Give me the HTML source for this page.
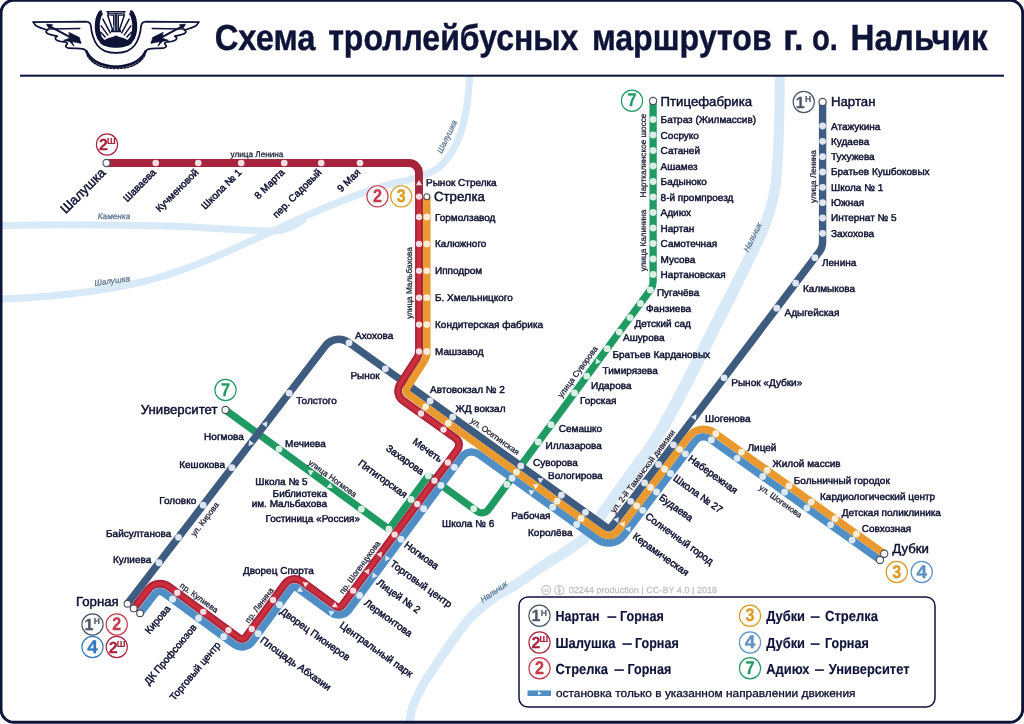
<!DOCTYPE html>
<html lang="ru"><head><meta charset="utf-8"><title>Схема троллейбусных маршрутов г. о. Нальчик</title>
<style>html,body{margin:0;padding:0;background:#fff}svg{display:block;font-family:'Liberation Sans', sans-serif;will-change:transform;text-rendering:geometricPrecision}</style></head>
<body>
<svg width="1024" height="724" viewBox="0 0 1024 724">
<rect x="0" y="0" width="1024" height="724" fill="#ffffff"/>
<path d="M0 225.5 C60 224.5 120 224.5 180 226.5 C215 228 250 231 275 231 C285 231 295 226 305 219" fill="none" stroke="#d8e9f8" stroke-width="7.0" stroke-linecap="butt" stroke-linejoin="round"/>
<path d="M0 299 C60 297 110 290 150 280 C200 266 240 246 290 223 C330 205 370 188 400 182 C415 179 432 173 440 166.5 C449 158.5 456 146 460.8 133 C465 120 468.5 98 469.8 76" fill="none" stroke="#d8e9f8" stroke-width="7.0" stroke-linecap="butt" stroke-linejoin="round"/>
<path d="M774.7 76.0 L774.6 84.6 L774.5 93.4 L774.4 102.3 L774.3 111.4 L774.1 120.5 L773.8 129.6 L773.5 138.7 L773.1 147.6 L772.7 156.4 L772.2 165.1 L771.6 173.4 L770.9 181.4 L770.1 186.8 L769.1 192.0 L768.0 197.0 L766.9 201.7 L765.6 206.1 L764.3 210.3 L763.0 214.2 L761.7 217.9 L760.4 221.3 L759.2 224.5 L758.0 227.3 L757.0 229.7 L754.2 235.6 L751.0 242.0 L747.6 248.9 L744.1 256.1 L740.3 263.6 L736.4 271.5 L732.3 279.6 L728.0 287.9 L723.7 296.4 L719.3 305.1 L714.7 313.9 L710.1 322.8 L706.7 329.7 L703.1 337.1 L699.2 344.8 L695.1 352.9 L690.9 361.3 L686.6 369.8 L682.2 378.3 L677.7 386.9 L673.3 395.4 L668.9 403.8 L664.5 411.9 L660.3 419.7 L658.0 423.9 L655.8 427.7 L653.7 431.3 L651.7 434.6 L649.8 437.7 L647.8 440.6 L645.9 443.4 L644.1 446.1 L642.2 448.8 L640.3 451.3 L638.4 453.9 L636.4 456.6 L632.4 462.1 L628.6 467.3 L624.9 472.5 L621.3 477.5 L617.8 482.3 L614.4 487.1 L611.1 491.8 L607.9 496.3 L604.7 500.8 L601.6 505.2 L598.5 509.5 L595.5 513.9 L594.0 516.2 L592.6 518.3 L591.2 520.4 L589.9 522.4 L588.7 524.2 L587.4 526.0 L586.2 527.8 L584.9 529.5 L583.6 531.1 L582.2 532.7 L580.7 534.2 L579.3 535.6 L576.9 537.4 L574.2 539.4 L571.5 541.3 L568.7 543.2 L565.9 545.0 L563.1 546.8 L560.3 548.6 L557.4 550.4 L554.6 552.2 L551.8 554.0 L548.9 555.8 L546.2 557.5 L543.3 559.4 L540.5 561.3 L537.6 563.2 L534.8 565.2 L531.9 567.2 L529.0 569.2 L526.2 571.2 L523.3 573.2 L520.5 575.2 L517.7 577.1 L515.0 578.9 L512.3 580.7 L509.9 582.1 L507.5 583.5 L505.0 585.0 L502.6 586.4 L500.1 587.8 L497.7 589.2 L495.3 590.7 L492.9 592.2 L490.6 593.7 L488.3 595.3 L486.1 596.9 L483.9 598.6 L481.8 600.4 L479.8 602.1 L477.8 603.9 L475.7 605.7 L473.7 607.6 L471.7 609.5 L469.8 611.5 L467.8 613.5 L465.9 615.5 L464.0 617.6 L462.1 619.8 L460.3 622.0 L458.2 624.8 L456.3 627.4 L454.4 630.0 L452.5 632.6 L450.7 635.1 L448.9 637.7 L447.1 640.2 L445.4 642.7 L443.7 645.1 L442.0 647.6 L440.4 650.0 L438.7 652.5 L437.1 655.0 L435.5 657.4 L434.0 659.8 L432.4 662.1 L431.0 664.4 L429.5 666.6 L428.1 668.7 L426.8 670.8 L425.5 672.7 L424.2 674.6 L423.0 676.4 L421.8 678.3 L420.2 681.0 L418.8 683.6 L417.4 686.1 L416.2 688.6 L414.9 690.9 L413.8 693.2 L412.8 695.4 L411.8 697.4 L410.9 699.4 L410.1 701.2 L409.4 702.9 L408.7 704.7 L408.2 706.7 L407.8 708.4 L407.4 710.2 L407.0 711.9 L406.7 713.6 L406.4 715.3 L406.1 717.0 L405.9 718.7 L405.7 720.5 L405.5 722.2 L405.4 724.0 L405.3 725.8 L413.9 726.2 L413.9 724.5 L414.0 722.9 L414.2 721.3 L414.4 719.8 L414.6 718.3 L414.8 716.7 L415.1 715.2 L415.4 713.6 L415.8 712.0 L416.1 710.4 L416.6 708.8 L416.9 707.3 L417.4 706.2 L418.1 704.7 L418.8 703.0 L419.7 701.1 L420.6 699.1 L421.6 697.1 L422.7 694.9 L423.9 692.6 L425.2 690.2 L426.5 687.8 L427.9 685.3 L429.2 682.9 L430.3 681.4 L431.5 679.6 L432.8 677.7 L434.2 675.7 L435.5 673.7 L437.0 671.6 L438.4 669.4 L440.0 667.1 L441.5 664.8 L443.1 662.4 L444.7 660.0 L446.3 657.5 L447.9 655.2 L449.6 652.8 L451.3 650.4 L453.0 648.0 L454.7 645.5 L456.5 643.1 L458.3 640.6 L460.1 638.1 L462.0 635.6 L463.9 633.0 L465.8 630.5 L467.7 628.0 L469.4 626.0 L471.2 624.0 L472.9 622.1 L474.8 620.2 L476.6 618.3 L478.5 616.5 L480.4 614.7 L482.3 613.0 L484.3 611.2 L486.2 609.6 L488.2 607.9 L490.1 606.4 L492.0 604.9 L494.0 603.4 L496.1 602.0 L498.3 600.6 L500.5 599.2 L502.8 597.9 L505.2 596.5 L507.6 595.1 L510.0 593.7 L512.5 592.3 L515.1 590.9 L517.7 589.3 L520.6 587.5 L523.4 585.6 L526.3 583.7 L529.2 581.7 L532.1 579.7 L535.0 577.8 L537.8 575.8 L540.7 573.8 L543.5 571.9 L546.3 570.0 L549.1 568.2 L551.8 566.5 L554.6 564.7 L557.4 563.0 L560.2 561.2 L563.1 559.5 L566.0 557.7 L568.9 555.8 L571.8 554.0 L574.7 552.1 L577.5 550.1 L580.4 548.1 L583.3 546.1 L586.3 543.8 L588.4 541.8 L590.1 540.0 L591.8 538.1 L593.4 536.2 L594.9 534.3 L596.3 532.4 L597.7 530.4 L599.0 528.4 L600.4 526.4 L601.7 524.3 L603.1 522.2 L604.5 520.1 L607.5 515.9 L610.6 511.6 L613.7 507.2 L616.9 502.8 L620.2 498.3 L623.6 493.7 L627.0 488.9 L630.5 484.1 L634.1 479.1 L637.9 474.0 L641.7 468.8 L645.6 463.4 L647.6 460.9 L649.6 458.2 L651.5 455.6 L653.5 452.9 L655.5 450.1 L657.5 447.1 L659.6 444.1 L661.7 440.8 L663.8 437.4 L666.1 433.7 L668.4 429.7 L670.7 425.5 L675.1 417.6 L679.5 409.5 L684.0 401.1 L688.5 392.5 L693.0 383.9 L697.4 375.3 L701.7 366.7 L705.9 358.4 L710.0 350.2 L713.9 342.5 L717.5 335.1 L720.9 328.2 L725.4 319.4 L730.0 310.6 L734.4 301.9 L738.6 293.2 L742.8 284.8 L746.8 276.6 L750.6 268.7 L754.3 261.1 L757.7 253.8 L761.0 246.9 L764.1 240.4 L767.0 234.3 L768.1 231.4 L769.3 228.4 L770.5 225.1 L771.8 221.5 L773.1 217.6 L774.4 213.5 L775.7 209.0 L777.0 204.3 L778.2 199.3 L779.3 194.0 L780.3 188.5 L781.1 182.6 L781.8 174.2 L782.4 165.7 L782.9 157.0 L783.4 148.1 L783.7 139.0 L784.0 129.9 L784.2 120.7 L784.4 111.6 L784.5 102.5 L784.6 93.5 L784.7 84.7 L784.7 76.0 Z" fill="#d8e9f8"/>
<path d="M653.10 101.00 L653.10 282.30 A12.00 12.00 0 0 1 650.76 289.43 L488.41 509.61 A8.00 8.00 0 0 1 477.27 511.33 L429.91 476.92 A2.00 2.00 0 0 0 427.12 477.36 L390.28 527.69 A2.00 2.00 0 0 1 387.49 528.12 L225.50 410.00" fill="none" stroke="#1f9a63" stroke-width="7.30" stroke-linecap="butt" stroke-linejoin="round" />
<path d="M822.60 102.00 L822.60 242.13 A16.00 16.00 0 0 1 819.36 251.78 L611.75 526.39 A4.00 4.00 0 0 1 606.23 527.23 L348.68 342.49 A17.00 17.00 0 0 0 325.28 345.96 L127.50 603.75" fill="none" stroke="#3e5b80" stroke-width="7.40" stroke-linecap="butt" stroke-linejoin="round" />
<path d="M880.00 560.00 L709.64 438.70 A10.50 10.50 0 0 0 695.17 440.92 L623.72 535.43 A19.00 19.00 0 0 1 597.49 539.42 L478.68 454.20 A12.00 12.00 0 0 0 462.04 456.82 L348.99 609.76 A13.00 13.00 0 0 1 330.87 612.53 L296.90 587.72 A4.00 4.00 0 0 0 291.32 588.59 L252.40 641.61 A13.00 13.00 0 0 1 234.24 644.40 L164.20 593.12 A7.00 7.00 0 0 0 154.51 594.50 L140.09 613.27" fill="none" stroke="#4f8fc6" stroke-width="7.50" stroke-linecap="butt" stroke-linejoin="round" />
<path d="M426.80 196.75 L426.80 352.88 A14.00 14.00 0 0 1 424.57 360.46 L407.02 387.73 A5.00 5.00 0 0 0 408.31 394.50 L601.86 533.32 A11.50 11.50 0 0 0 617.74 530.91 L689.22 436.35 A18.00 18.00 0 0 1 714.02 432.55 L884.25 553.75" fill="none" stroke="#e9992d" stroke-width="7.50" stroke-linecap="butt" stroke-linejoin="round" />
<path d="M106.50 163.00 L409.00 163.00 A10.00 10.00 0 0 1 419.00 173.00 L419.00 350.89 A14.00 14.00 0 0 1 416.77 358.46 L400.03 384.49 A12.00 12.00 0 0 0 403.15 400.74 L455.68 438.27 A8.00 8.00 0 0 1 457.47 449.54 L342.56 605.00 A5.00 5.00 0 0 1 335.59 606.07 L301.62 581.26 A12.00 12.00 0 0 0 284.87 583.85 L245.96 636.87 A5.00 5.00 0 0 1 238.97 637.95 L168.93 586.66 A15.00 15.00 0 0 0 148.17 589.63 L133.75 608.40" fill="none" stroke="#a8233c" stroke-width="7.90" stroke-linecap="butt" stroke-linejoin="round" />
<path d="M419.00 196.60 L419.00 350.89 A14.00 14.00 0 0 1 416.77 358.46 L400.03 384.49 A12.00 12.00 0 0 0 403.15 400.74 L455.68 438.27 A8.00 8.00 0 0 1 457.47 449.54 L342.56 605.00 A5.00 5.00 0 0 1 335.59 606.07 L301.62 581.26 A12.00 12.00 0 0 0 284.87 583.85 L245.96 636.87 A5.00 5.00 0 0 1 238.97 637.95 L168.93 586.66 A15.00 15.00 0 0 0 148.17 589.63 L133.75 608.40" fill="none" stroke="#cc2f3b" stroke-width="4.10" stroke-linecap="butt" stroke-linejoin="round" />
<circle cx="822.60" cy="126.00" r="3.40" fill="#dfe6f2"/>
<circle cx="822.60" cy="141.33" r="3.40" fill="#dfe6f2"/>
<circle cx="822.60" cy="156.66" r="3.40" fill="#dfe6f2"/>
<circle cx="822.60" cy="171.99" r="3.40" fill="#dfe6f2"/>
<circle cx="822.60" cy="187.32" r="3.40" fill="#dfe6f2"/>
<circle cx="822.60" cy="202.65" r="3.40" fill="#dfe6f2"/>
<circle cx="822.60" cy="217.98" r="3.40" fill="#dfe6f2"/>
<circle cx="822.60" cy="233.31" r="3.40" fill="#dfe6f2"/>
<circle cx="814.91" cy="257.68" r="3.40" fill="#dfe6f2"/>
<circle cx="795.66" cy="283.14" r="3.40" fill="#dfe6f2"/>
<circle cx="776.76" cy="308.14" r="3.40" fill="#dfe6f2"/>
<circle cx="724.05" cy="377.85" r="3.40" fill="#dfe6f2"/>
<circle cx="673.45" cy="444.78" r="3.40" fill="#dfe6f2"/>
<circle cx="658.57" cy="464.46" r="3.40" fill="#dfe6f2"/>
<circle cx="644.58" cy="482.97" r="3.40" fill="#dfe6f2"/>
<circle cx="630.70" cy="501.33" r="3.40" fill="#dfe6f2"/>
<circle cx="585.44" cy="512.31" r="3.40" fill="#dfe6f2"/>
<circle cx="561.39" cy="495.06" r="3.40" fill="#dfe6f2"/>
<circle cx="520.81" cy="465.96" r="3.40" fill="#dfe6f2"/>
<circle cx="452.64" cy="417.06" r="3.40" fill="#dfe6f2"/>
<circle cx="430.16" cy="400.94" r="3.40" fill="#dfe6f2"/>
<circle cx="385.36" cy="368.81" r="3.40" fill="#dfe6f2"/>
<circle cx="349.08" cy="342.78" r="3.40" fill="#dfe6f2"/>
<circle cx="289.11" cy="393.11" r="3.40" fill="#dfe6f2"/>
<circle cx="231.93" cy="467.64" r="3.40" fill="#dfe6f2"/>
<circle cx="203.17" cy="505.13" r="3.40" fill="#dfe6f2"/>
<circle cx="178.48" cy="537.30" r="3.40" fill="#dfe6f2"/>
<circle cx="158.94" cy="562.77" r="3.40" fill="#dfe6f2"/>
<circle cx="426.80" cy="217.00" r="3.40" fill="#fbeed8"/>
<circle cx="426.80" cy="243.90" r="3.40" fill="#fbeed8"/>
<circle cx="426.80" cy="270.80" r="3.40" fill="#fbeed8"/>
<circle cx="426.80" cy="297.70" r="3.40" fill="#fbeed8"/>
<circle cx="426.80" cy="324.60" r="3.40" fill="#fbeed8"/>
<circle cx="426.80" cy="351.50" r="3.40" fill="#fbeed8"/>
<circle cx="425.54" cy="406.85" r="3.40" fill="#fbeed8"/>
<circle cx="448.27" cy="423.16" r="3.40" fill="#fbeed8"/>
<circle cx="581.06" cy="518.41" r="3.40" fill="#fbeed8"/>
<circle cx="557.01" cy="501.16" r="3.40" fill="#fbeed8"/>
<circle cx="516.44" cy="472.05" r="3.40" fill="#fbeed8"/>
<circle cx="679.44" cy="449.30" r="3.40" fill="#fbeed8"/>
<circle cx="664.55" cy="468.99" r="3.40" fill="#fbeed8"/>
<circle cx="650.56" cy="487.49" r="3.40" fill="#fbeed8"/>
<circle cx="636.68" cy="505.85" r="3.40" fill="#fbeed8"/>
<circle cx="715.74" cy="433.77" r="3.40" fill="#fbeed8"/>
<circle cx="741.52" cy="452.12" r="3.40" fill="#fbeed8"/>
<circle cx="767.11" cy="470.35" r="3.40" fill="#fbeed8"/>
<circle cx="788.98" cy="485.92" r="3.40" fill="#fbeed8"/>
<circle cx="811.36" cy="501.85" r="3.40" fill="#fbeed8"/>
<circle cx="835.03" cy="518.71" r="3.40" fill="#fbeed8"/>
<circle cx="856.46" cy="533.96" r="3.40" fill="#fbeed8"/>
<circle cx="155.75" cy="163.00" r="3.30" fill="#f6dfe3"/>
<circle cx="198.25" cy="163.00" r="3.30" fill="#f6dfe3"/>
<circle cx="241.25" cy="163.00" r="3.30" fill="#f6dfe3"/>
<circle cx="284.25" cy="163.00" r="3.30" fill="#f6dfe3"/>
<circle cx="321.25" cy="163.00" r="3.30" fill="#f6dfe3"/>
<circle cx="360.00" cy="163.00" r="3.30" fill="#f6dfe3"/>
<circle cx="419.00" cy="196.60" r="3.15" fill="#f6dfe3"/>
<circle cx="419.00" cy="217.00" r="3.15" fill="#f6dfe3"/>
<circle cx="419.00" cy="243.90" r="3.15" fill="#f6dfe3"/>
<circle cx="419.00" cy="270.80" r="3.15" fill="#f6dfe3"/>
<circle cx="419.00" cy="297.70" r="3.15" fill="#f6dfe3"/>
<circle cx="419.00" cy="324.60" r="3.15" fill="#f6dfe3"/>
<circle cx="419.00" cy="351.50" r="3.15" fill="#f6dfe3"/>
<circle cx="421.00" cy="413.50" r="3.15" fill="#f6dfe3"/>
<circle cx="443.51" cy="429.58" r="3.15" fill="#f6dfe3"/>
<circle cx="447.87" cy="462.52" r="3.15" fill="#f6dfe3"/>
<circle cx="434.47" cy="480.65" r="3.15" fill="#f6dfe3"/>
<circle cx="417.23" cy="503.98" r="3.15" fill="#f6dfe3"/>
<circle cx="394.62" cy="534.56" r="3.15" fill="#f6dfe3"/>
<circle cx="353.16" cy="590.65" r="3.15" fill="#f6dfe3"/>
<circle cx="273.02" cy="599.99" r="3.15" fill="#f6dfe3"/>
<circle cx="251.74" cy="628.99" r="3.15" fill="#f6dfe3"/>
<circle cx="228.48" cy="630.27" r="3.15" fill="#f6dfe3"/>
<circle cx="203.27" cy="611.81" r="3.15" fill="#f6dfe3"/>
<circle cx="177.25" cy="592.75" r="3.15" fill="#f6dfe3"/>
<circle cx="576.69" cy="524.50" r="3.40" fill="#dfeaf7"/>
<circle cx="552.64" cy="507.25" r="3.40" fill="#dfeaf7"/>
<circle cx="512.07" cy="478.15" r="3.40" fill="#dfeaf7"/>
<circle cx="685.42" cy="453.82" r="3.40" fill="#dfeaf7"/>
<circle cx="670.53" cy="473.51" r="3.40" fill="#dfeaf7"/>
<circle cx="656.54" cy="492.02" r="3.40" fill="#dfeaf7"/>
<circle cx="642.67" cy="510.37" r="3.40" fill="#dfeaf7"/>
<circle cx="711.35" cy="439.92" r="3.40" fill="#dfeaf7"/>
<circle cx="737.13" cy="458.28" r="3.40" fill="#dfeaf7"/>
<circle cx="762.73" cy="476.50" r="3.40" fill="#dfeaf7"/>
<circle cx="784.60" cy="492.08" r="3.40" fill="#dfeaf7"/>
<circle cx="806.97" cy="508.01" r="3.40" fill="#dfeaf7"/>
<circle cx="830.65" cy="524.86" r="3.40" fill="#dfeaf7"/>
<circle cx="852.07" cy="540.12" r="3.40" fill="#dfeaf7"/>
<circle cx="454.30" cy="467.28" r="3.40" fill="#dfeaf7"/>
<circle cx="440.90" cy="485.41" r="3.40" fill="#dfeaf7"/>
<circle cx="423.66" cy="508.74" r="3.40" fill="#dfeaf7"/>
<circle cx="401.05" cy="539.32" r="3.40" fill="#dfeaf7"/>
<circle cx="359.60" cy="595.40" r="3.40" fill="#dfeaf7"/>
<circle cx="279.47" cy="604.73" r="3.40" fill="#dfeaf7"/>
<circle cx="258.19" cy="633.72" r="3.40" fill="#dfeaf7"/>
<circle cx="223.76" cy="636.73" r="3.40" fill="#dfeaf7"/>
<circle cx="198.55" cy="618.26" r="3.40" fill="#dfeaf7"/>
<circle cx="172.52" cy="599.21" r="3.40" fill="#dfeaf7"/>
<circle cx="653.10" cy="119.50" r="3.40" fill="#dcefe6"/>
<circle cx="653.10" cy="135.00" r="3.40" fill="#dcefe6"/>
<circle cx="653.10" cy="150.50" r="3.40" fill="#dcefe6"/>
<circle cx="653.10" cy="166.00" r="3.40" fill="#dcefe6"/>
<circle cx="653.10" cy="181.50" r="3.40" fill="#dcefe6"/>
<circle cx="653.10" cy="197.00" r="3.40" fill="#dcefe6"/>
<circle cx="653.10" cy="212.50" r="3.40" fill="#dcefe6"/>
<circle cx="653.10" cy="228.00" r="3.40" fill="#dcefe6"/>
<circle cx="653.10" cy="243.50" r="3.40" fill="#dcefe6"/>
<circle cx="653.10" cy="259.00" r="3.40" fill="#dcefe6"/>
<circle cx="653.10" cy="274.50" r="3.40" fill="#dcefe6"/>
<circle cx="650.32" cy="290.02" r="3.40" fill="#dcefe6"/>
<circle cx="640.39" cy="303.49" r="3.40" fill="#dcefe6"/>
<circle cx="630.04" cy="317.53" r="3.40" fill="#dcefe6"/>
<circle cx="619.32" cy="332.06" r="3.40" fill="#dcefe6"/>
<circle cx="551.02" cy="424.70" r="3.40" fill="#dcefe6"/>
<circle cx="538.25" cy="442.01" r="3.40" fill="#dcefe6"/>
<circle cx="506.96" cy="484.45" r="3.40" fill="#dcefe6"/>
<circle cx="473.74" cy="508.76" r="3.40" fill="#dcefe6"/>
<circle cx="428.30" cy="475.75" r="3.40" fill="#dcefe6"/>
<circle cx="410.99" cy="499.39" r="3.40" fill="#dcefe6"/>
<circle cx="388.92" cy="529.17" r="3.40" fill="#dcefe6"/>
<circle cx="361.40" cy="509.10" r="3.40" fill="#dcefe6"/>
<circle cx="279.07" cy="449.06" r="3.40" fill="#dcefe6"/>
<circle cx="607.05" cy="348.71" r="3.40" fill="#dcefe6"/>
<circle cx="586.79" cy="376.19" r="3.40" fill="#dcefe6"/>
<circle cx="574.47" cy="392.90" r="3.40" fill="#dcefe6"/>
<circle cx="822.60" cy="102.00" r="3.60" fill="#ffffff" stroke="#4a4e5c" stroke-width="1.1"/>
<circle cx="106.50" cy="163.00" r="3.60" fill="#ffffff" stroke="#4a4e5c" stroke-width="1.1"/>
<circle cx="884.25" cy="553.75" r="3.60" fill="#ffffff" stroke="#4a4e5c" stroke-width="1.1"/>
<circle cx="880.00" cy="560.00" r="3.60" fill="#ffffff" stroke="#4a4e5c" stroke-width="1.1"/>
<circle cx="653.10" cy="101.00" r="3.60" fill="#ffffff" stroke="#4a4e5c" stroke-width="1.1"/>
<circle cx="225.50" cy="410.00" r="3.60" fill="#ffffff" stroke="#4a4e5c" stroke-width="1.1"/>
<circle cx="127.50" cy="603.75" r="3.40" fill="#ffffff" stroke="#4a4e5c" stroke-width="1.1"/>
<circle cx="133.75" cy="608.40" r="3.40" fill="#ffffff" stroke="#4a4e5c" stroke-width="1.1"/>
<circle cx="140.09" cy="613.27" r="3.40" fill="#ffffff" stroke="#4a4e5c" stroke-width="1.1"/>
<circle cx="426.80" cy="196.75" r="3.00" fill="#ffffff" stroke="#4a4e5c" stroke-width="1.1"/>
<path d="M2.90 0 L-2.32 -3.04 L-2.32 3.04 Z" fill="#f6dfe3" transform="translate(419.00 183.00) rotate(-90.0)"/>
<path d="M2.90 0 L-2.32 -3.04 L-2.32 3.04 Z" fill="#f6dfe3" transform="translate(380.28 553.96) rotate(306.5)"/>
<path d="M2.90 0 L-2.32 -3.04 L-2.32 3.04 Z" fill="#f6dfe3" transform="translate(367.68 571.01) rotate(306.5)"/>
<path d="M2.90 0 L-2.32 -3.04 L-2.32 3.04 Z" fill="#dfeaf7" transform="translate(386.65 558.80) rotate(126.5)"/>
<path d="M2.90 0 L-2.32 -3.04 L-2.32 3.04 Z" fill="#dfeaf7" transform="translate(373.84 576.13) rotate(126.5)"/>
<path d="M2.90 0 L-2.32 -3.04 L-2.32 3.04 Z" fill="#f6dfe3" transform="translate(305.01 583.74) rotate(-143.9)"/>
<path d="M2.90 0 L-2.32 -3.04 L-2.32 3.04 Z" fill="#f6dfe3" transform="translate(335.29 605.85) rotate(36.1)"/>
<path d="M2.90 0 L-2.32 -3.04 L-2.32 3.04 Z" fill="#dfeaf7" transform="translate(300.45 590.32) rotate(36.1)"/>
<path d="M2.90 0 L-2.32 -3.04 L-2.32 3.04 Z" fill="#dfeaf7" transform="translate(330.85 612.52) rotate(-143.9)"/>
<path d="M2.90 0 L-2.32 -3.04 L-2.32 3.04 Z" fill="#dfe6f2" transform="translate(540.01 479.73) rotate(-144.3)"/>
<path d="M2.90 0 L-2.32 -3.04 L-2.32 3.04 Z" fill="#fbeed8" transform="translate(535.38 485.63) rotate(215.7)"/>
<path d="M2.90 0 L-2.32 -3.04 L-2.32 3.04 Z" fill="#dfeaf7" transform="translate(530.87 491.64) rotate(-144.3)"/>
<path d="M2.90 0 L-2.32 -3.04 L-2.32 3.04 Z" fill="#dfe6f2" transform="translate(617.11 519.30) rotate(307.1)"/>
<path d="M2.90 0 L-2.32 -3.04 L-2.32 3.04 Z" fill="#fbeed8" transform="translate(623.25 523.62) rotate(-52.9)"/>
<path d="M2.90 0 L-2.32 -3.04 L-2.32 3.04 Z" fill="#dfeaf7" transform="translate(629.00 528.45) rotate(307.1)"/>
<path d="M2.90 0 L-2.32 -3.04 L-2.32 3.04 Z" fill="#dfe6f2" transform="translate(694.75 416.61) rotate(307.1)"/>
<path d="M2.90 0 L-2.32 -3.04 L-2.32 3.04 Z" fill="#dfe6f2" transform="translate(265.68 423.64) rotate(307.5)"/>
<path d="M2.90 0 L-2.32 -3.04 L-2.32 3.04 Z" fill="#dfe6f2" transform="translate(250.28 443.72) rotate(127.5)"/>
<path d="M2.90 0 L-2.32 -3.04 L-2.32 3.04 Z" fill="#dcefe6" transform="translate(310.29 471.83) rotate(-143.9)"/>
<path d="M2.90 0 L-2.32 -3.04 L-2.32 3.04 Z" fill="#dcefe6" transform="translate(330.38 486.48) rotate(36.1)"/>
<path d="M2.90 0 L-2.32 -3.04 L-2.32 3.04 Z" fill="#dcefe6" transform="translate(597.26 361.99) rotate(126.4)"/>
<text x="257.00" y="157.00" font-size="8.20" fill="#1d2034" text-anchor="middle" stroke="#1d2034" stroke-width="0.28">улица Ленина</text>
<text x="412.00" y="283.00" font-size="8.20" fill="#1d2034" text-anchor="middle" transform="rotate(-90.00 412.00 283.00)" stroke="#1d2034" stroke-width="0.28">улица Мальбахова</text>
<text x="645.50" y="155.50" font-size="8.20" fill="#1d2034" text-anchor="middle" transform="rotate(-90.00 645.50 155.50)" stroke="#1d2034" stroke-width="0.28">Нарткалинское шоссе</text>
<text x="645.50" y="240.50" font-size="8.20" fill="#1d2034" text-anchor="middle" transform="rotate(-90.00 645.50 240.50)" stroke="#1d2034" stroke-width="0.28">улица Калинина</text>
<text x="816.30" y="176.50" font-size="8.20" fill="#1d2034" text-anchor="middle" transform="rotate(-90.00 816.30 176.50)" stroke="#1d2034" stroke-width="0.28">улица Ленина</text>
<text x="580.00" y="373.50" font-size="8.20" fill="#1d2034" text-anchor="middle" transform="rotate(-53.70 580.00 373.50)" stroke="#1d2034" stroke-width="0.28">улица Суворова</text>
<text x="493.50" y="438.50" font-size="8.20" fill="#1d2034" text-anchor="middle" transform="rotate(35.60 493.50 438.50)" stroke="#1d2034" stroke-width="0.28">ул. Осетинская</text>
<text x="645.00" y="473.00" font-size="8.20" fill="#1d2034" text-anchor="middle" transform="rotate(-53.00 645.00 473.00)" stroke="#1d2034" stroke-width="0.28">ул. 2-й Таманской дивизии</text>
<text x="779.00" y="503.50" font-size="8.20" fill="#1d2034" text-anchor="middle" transform="rotate(35.60 779.00 503.50)" stroke="#1d2034" stroke-width="0.28">ул. Шогенова</text>
<text x="207.00" y="521.00" font-size="8.20" fill="#1d2034" text-anchor="middle" transform="rotate(-52.50 207.00 521.00)" stroke="#1d2034" stroke-width="0.28">ул. Кирова</text>
<text x="197.50" y="600.00" font-size="8.20" fill="#1d2034" text-anchor="middle" transform="rotate(36.00 197.50 600.00)" stroke="#1d2034" stroke-width="0.28">пр. Кулиева</text>
<text x="261.50" y="607.00" font-size="8.20" fill="#1d2034" text-anchor="middle" transform="rotate(-53.00 261.50 607.00)" stroke="#1d2034" stroke-width="0.28">пр. Ленина</text>
<text x="362.00" y="569.00" font-size="8.20" fill="#1d2034" text-anchor="middle" transform="rotate(-53.80 362.00 569.00)" stroke="#1d2034" stroke-width="0.28">пр. Шогенцукова</text>
<text x="331.00" y="480.50" font-size="8.20" fill="#1d2034" text-anchor="middle" transform="rotate(36.00 331.00 480.50)" stroke="#1d2034" stroke-width="0.28">улица Ногмова</text>
<text x="114.00" y="218.80" font-size="8.20" fill="#5d7791" text-anchor="middle" font-style="italic" stroke="#5d7791" stroke-width="0.28">Каменка</text>
<text x="112.50" y="283.50" font-size="8.20" fill="#5d7791" text-anchor="middle" font-style="italic" transform="rotate(-8.00 112.50 283.50)" stroke="#5d7791" stroke-width="0.28">Шалушка</text>
<text x="449.50" y="138.00" font-size="8.20" fill="#5d7791" text-anchor="middle" font-style="italic" transform="rotate(-64.00 449.50 138.00)" stroke="#5d7791" stroke-width="0.28">Шалушка</text>
<text x="755.00" y="238.50" font-size="8.20" fill="#5d7791" text-anchor="middle" font-style="italic" transform="rotate(-64.00 755.00 238.50)" stroke="#5d7791" stroke-width="0.28">Нальчик</text>
<text x="495.50" y="594.00" font-size="8.20" fill="#5d7791" text-anchor="middle" font-style="italic" transform="rotate(-35.00 495.50 594.00)" stroke="#5d7791" stroke-width="0.28">Нальчик</text>
<text x="660.60" y="106.00" font-size="13.20" fill="#0d1030" textLength="91.54" lengthAdjust="spacingAndGlyphs" stroke="#0d1030" stroke-width="0.45">Птицефабрика</text>
<text x="660.60" y="123.00" font-size="10.00" fill="#0d1030" textLength="95.51" lengthAdjust="spacingAndGlyphs" stroke="#0d1030" stroke-width="0.45">Батраз (Жилмассив)</text>
<text x="660.60" y="138.50" font-size="10.00" fill="#0d1030" textLength="38.28" lengthAdjust="spacingAndGlyphs" stroke="#0d1030" stroke-width="0.45">Сосруко</text>
<text x="660.60" y="154.00" font-size="10.00" fill="#0d1030" textLength="39.38" lengthAdjust="spacingAndGlyphs" stroke="#0d1030" stroke-width="0.45">Сатаней</text>
<text x="660.60" y="169.50" font-size="10.00" fill="#0d1030" textLength="37.06" lengthAdjust="spacingAndGlyphs" stroke="#0d1030" stroke-width="0.45">Ашамез</text>
<text x="660.60" y="185.00" font-size="10.00" fill="#0d1030" textLength="46.28" lengthAdjust="spacingAndGlyphs" stroke="#0d1030" stroke-width="0.45">Бадыноко</text>
<text x="660.60" y="200.50" font-size="10.00" fill="#0d1030" textLength="72.75" lengthAdjust="spacingAndGlyphs" stroke="#0d1030" stroke-width="0.45">8-й промпроезд</text>
<text x="660.60" y="216.00" font-size="10.00" fill="#0d1030" textLength="30.48" lengthAdjust="spacingAndGlyphs" stroke="#0d1030" stroke-width="0.45">Адиюх</text>
<text x="660.60" y="231.50" font-size="10.00" fill="#0d1030" textLength="33.68" lengthAdjust="spacingAndGlyphs" stroke="#0d1030" stroke-width="0.45">Нартан</text>
<text x="660.60" y="247.00" font-size="10.00" fill="#0d1030" textLength="56.52" lengthAdjust="spacingAndGlyphs" stroke="#0d1030" stroke-width="0.45">Самотечная</text>
<text x="660.60" y="262.50" font-size="10.00" fill="#0d1030" textLength="34.77" lengthAdjust="spacingAndGlyphs" stroke="#0d1030" stroke-width="0.45">Мусова</text>
<text x="660.60" y="278.00" font-size="10.00" fill="#0d1030" textLength="65.01" lengthAdjust="spacingAndGlyphs" stroke="#0d1030" stroke-width="0.45">Нартановская</text>
<text x="656.90" y="296.00" font-size="10.00" fill="#0d1030" textLength="42.49" lengthAdjust="spacingAndGlyphs" stroke="#0d1030" stroke-width="0.45">Пугачёва</text>
<text x="646.00" y="311.50" font-size="10.00" fill="#0d1030" textLength="45.18" lengthAdjust="spacingAndGlyphs" stroke="#0d1030" stroke-width="0.45">Фанзиева</text>
<text x="634.60" y="326.50" font-size="10.00" fill="#0d1030" textLength="56.19" lengthAdjust="spacingAndGlyphs" stroke="#0d1030" stroke-width="0.45">Детский сад</text>
<text x="623.00" y="341.00" font-size="10.00" fill="#0d1030" textLength="41.47" lengthAdjust="spacingAndGlyphs" stroke="#0d1030" stroke-width="0.45">Ашурова</text>
<text x="612.50" y="357.50" font-size="10.00" fill="#0d1030" textLength="97.61" lengthAdjust="spacingAndGlyphs" stroke="#0d1030" stroke-width="0.45">Братьев Кардановых</text>
<text x="602.50" y="373.50" font-size="10.00" fill="#0d1030" textLength="55.38" lengthAdjust="spacingAndGlyphs" stroke="#0d1030" stroke-width="0.45">Тимирязева</text>
<text x="591.00" y="388.50" font-size="10.00" fill="#0d1030" textLength="40.47" lengthAdjust="spacingAndGlyphs" stroke="#0d1030" stroke-width="0.45">Идарова</text>
<text x="580.00" y="404.00" font-size="10.00" fill="#0d1030" textLength="36.44" lengthAdjust="spacingAndGlyphs" stroke="#0d1030" stroke-width="0.45">Горская</text>
<text x="558.75" y="431.50" font-size="10.00" fill="#0d1030" textLength="43.29" lengthAdjust="spacingAndGlyphs" stroke="#0d1030" stroke-width="0.45">Семашко</text>
<text x="545.50" y="449.25" font-size="10.00" fill="#0d1030" textLength="56.34" lengthAdjust="spacingAndGlyphs" stroke="#0d1030" stroke-width="0.45">Иллазарова</text>
<text x="533.00" y="465.50" font-size="10.00" fill="#0d1030" textLength="44.87" lengthAdjust="spacingAndGlyphs" stroke="#0d1030" stroke-width="0.45">Суворова</text>
<text x="548.00" y="479.00" font-size="10.00" fill="#0d1030" textLength="54.64" lengthAdjust="spacingAndGlyphs" stroke="#0d1030" stroke-width="0.45">Вологирова</text>
<text x="511.25" y="518.50" font-size="10.00" fill="#0d1030" textLength="39.16" lengthAdjust="spacingAndGlyphs" stroke="#0d1030" stroke-width="0.45">Рабочая</text>
<text x="528.00" y="535.50" font-size="10.00" fill="#0d1030" textLength="44.45" lengthAdjust="spacingAndGlyphs" stroke="#0d1030" stroke-width="0.45">Королёва</text>
<text x="442.00" y="527.25" font-size="10.00" fill="#0d1030" textLength="52.24" lengthAdjust="spacingAndGlyphs" stroke="#0d1030" stroke-width="0.45">Школа № 6</text>
<text x="831.00" y="106.25" font-size="13.20" fill="#0d1030" textLength="44.46" lengthAdjust="spacingAndGlyphs" stroke="#0d1030" stroke-width="0.45">Нартан</text>
<text x="831.00" y="129.50" font-size="10.00" fill="#0d1030" textLength="49.33" lengthAdjust="spacingAndGlyphs" stroke="#0d1030" stroke-width="0.45">Атажукина</text>
<text x="831.00" y="144.83" font-size="10.00" fill="#0d1030" textLength="38.21" lengthAdjust="spacingAndGlyphs" stroke="#0d1030" stroke-width="0.45">Кудаева</text>
<text x="831.00" y="160.16" font-size="10.00" fill="#0d1030" textLength="43.67" lengthAdjust="spacingAndGlyphs" stroke="#0d1030" stroke-width="0.45">Тухужева</text>
<text x="831.00" y="175.49" font-size="10.00" fill="#0d1030" textLength="98.60" lengthAdjust="spacingAndGlyphs" stroke="#0d1030" stroke-width="0.45">Братьев Кушбоковых</text>
<text x="831.00" y="190.82" font-size="10.00" fill="#0d1030" textLength="52.24" lengthAdjust="spacingAndGlyphs" stroke="#0d1030" stroke-width="0.45">Школа № 1</text>
<text x="831.00" y="206.15" font-size="10.00" fill="#0d1030" textLength="33.29" lengthAdjust="spacingAndGlyphs" stroke="#0d1030" stroke-width="0.45">Южная</text>
<text x="831.00" y="221.48" font-size="10.00" fill="#0d1030" textLength="65.59" lengthAdjust="spacingAndGlyphs" stroke="#0d1030" stroke-width="0.45">Интернат № 5</text>
<text x="831.00" y="236.81" font-size="10.00" fill="#0d1030" textLength="43.15" lengthAdjust="spacingAndGlyphs" stroke="#0d1030" stroke-width="0.45">Захохова</text>
<text x="822.00" y="266.00" font-size="10.00" fill="#0d1030" textLength="34.32" lengthAdjust="spacingAndGlyphs" stroke="#0d1030" stroke-width="0.45">Ленина</text>
<text x="803.00" y="291.50" font-size="10.00" fill="#0d1030" textLength="52.10" lengthAdjust="spacingAndGlyphs" stroke="#0d1030" stroke-width="0.45">Калмыкова</text>
<text x="784.50" y="316.00" font-size="10.00" fill="#0d1030" textLength="54.84" lengthAdjust="spacingAndGlyphs" stroke="#0d1030" stroke-width="0.45">Адыгейская</text>
<text x="731.25" y="386.00" font-size="10.00" fill="#0d1030" textLength="71.01" lengthAdjust="spacingAndGlyphs" stroke="#0d1030" stroke-width="0.45">Рынок «Дубки»</text>
<text x="705.00" y="422.25" font-size="10.00" fill="#0d1030" textLength="45.56" lengthAdjust="spacingAndGlyphs" stroke="#0d1030" stroke-width="0.45">Шогенова</text>
<text x="747.50" y="450.50" font-size="10.00" fill="#0d1030" textLength="28.91" lengthAdjust="spacingAndGlyphs" stroke="#0d1030" stroke-width="0.45">Лицей</text>
<text x="772.50" y="466.50" font-size="10.00" fill="#0d1030" textLength="68.03" lengthAdjust="spacingAndGlyphs" stroke="#0d1030" stroke-width="0.45">Жилой массив</text>
<text x="793.75" y="483.50" font-size="10.00" fill="#0d1030" textLength="96.01" lengthAdjust="spacingAndGlyphs" stroke="#0d1030" stroke-width="0.45">Больничный городок</text>
<text x="820.00" y="499.75" font-size="10.00" fill="#0d1030" textLength="115.16" lengthAdjust="spacingAndGlyphs" stroke="#0d1030" stroke-width="0.45">Кардиологический центр</text>
<text x="841.75" y="516.00" font-size="10.00" fill="#0d1030" textLength="99.17" lengthAdjust="spacingAndGlyphs" stroke="#0d1030" stroke-width="0.45">Детская поликлиника</text>
<text x="861.75" y="531.50" font-size="10.00" fill="#0d1030" textLength="49.52" lengthAdjust="spacingAndGlyphs" stroke="#0d1030" stroke-width="0.45">Совхозная</text>
<text x="892.25" y="552.50" font-size="13.20" fill="#0d1030" textLength="36.69" lengthAdjust="spacingAndGlyphs" stroke="#0d1030" stroke-width="0.45">Дубки</text>
<text x="687.46" y="460.35" font-size="10.00" fill="#0d1030" transform="rotate(35.60 687.46 460.35)" textLength="58.16" lengthAdjust="spacingAndGlyphs" stroke="#0d1030" stroke-width="0.45">Набережная</text>
<text x="672.46" y="479.85" font-size="10.00" fill="#0d1030" transform="rotate(35.60 672.46 479.85)" textLength="57.80" lengthAdjust="spacingAndGlyphs" stroke="#0d1030" stroke-width="0.45">Школа № 27</text>
<text x="658.46" y="499.10" font-size="10.00" fill="#0d1030" transform="rotate(35.60 658.46 499.10)" textLength="38.73" lengthAdjust="spacingAndGlyphs" stroke="#0d1030" stroke-width="0.45">Будаева</text>
<text x="644.46" y="517.85" font-size="10.00" fill="#0d1030" transform="rotate(35.60 644.46 517.85)" textLength="81.16" lengthAdjust="spacingAndGlyphs" stroke="#0d1030" stroke-width="0.45">Солнечный город</text>
<text x="631.96" y="537.85" font-size="10.00" fill="#0d1030" transform="rotate(35.60 631.96 537.85)" textLength="66.31" lengthAdjust="spacingAndGlyphs" stroke="#0d1030" stroke-width="0.45">Керамическая</text>
<text x="243.75" y="439.75" font-size="10.00" fill="#0d1030" text-anchor="end" textLength="39.63" lengthAdjust="spacingAndGlyphs" stroke="#0d1030" stroke-width="0.45">Ногмова</text>
<text x="225.00" y="468.00" font-size="10.00" fill="#0d1030" text-anchor="end" textLength="45.78" lengthAdjust="spacingAndGlyphs" stroke="#0d1030" stroke-width="0.45">Кешокова</text>
<text x="196.25" y="504.25" font-size="10.00" fill="#0d1030" text-anchor="end" textLength="36.96" lengthAdjust="spacingAndGlyphs" stroke="#0d1030" stroke-width="0.45">Головко</text>
<text x="171.25" y="536.75" font-size="10.00" fill="#0d1030" text-anchor="end" textLength="65.20" lengthAdjust="spacingAndGlyphs" stroke="#0d1030" stroke-width="0.45">Байсултанова</text>
<text x="151.25" y="563.00" font-size="10.00" fill="#0d1030" text-anchor="end" textLength="38.35" lengthAdjust="spacingAndGlyphs" stroke="#0d1030" stroke-width="0.45">Кулиева</text>
<text x="118.75" y="606.25" font-size="13.20" fill="#0d1030" text-anchor="end" textLength="42.73" lengthAdjust="spacingAndGlyphs" stroke="#0d1030" stroke-width="0.45">Горная</text>
<text x="217.50" y="413.75" font-size="13.20" fill="#0d1030" text-anchor="end" textLength="76.82" lengthAdjust="spacingAndGlyphs" stroke="#0d1030" stroke-width="0.45">Университет</text>
<text x="296.25" y="403.50" font-size="10.00" fill="#0d1030" textLength="40.52" lengthAdjust="spacingAndGlyphs" stroke="#0d1030" stroke-width="0.45">Толстого</text>
<text x="285.00" y="446.75" font-size="10.00" fill="#0d1030" textLength="40.79" lengthAdjust="spacingAndGlyphs" stroke="#0d1030" stroke-width="0.45">Мечиева</text>
<text x="355.00" y="339.00" font-size="10.00" fill="#0d1030" textLength="38.22" lengthAdjust="spacingAndGlyphs" stroke="#0d1030" stroke-width="0.45">Ахохова</text>
<text x="379.75" y="379.10" font-size="10.00" fill="#0d1030" text-anchor="end" textLength="29.32" lengthAdjust="spacingAndGlyphs" stroke="#0d1030" stroke-width="0.45">Рынок</text>
<text x="307.50" y="484.75" font-size="10.00" fill="#0d1030" text-anchor="end" textLength="52.24" lengthAdjust="spacingAndGlyphs" stroke="#0d1030" stroke-width="0.45">Школа № 5</text>
<text x="327.00" y="497.25" font-size="10.00" fill="#0d1030" text-anchor="end" textLength="54.38" lengthAdjust="spacingAndGlyphs" stroke="#0d1030" stroke-width="0.45">Библиотека</text>
<text x="327.00" y="506.75" font-size="10.00" fill="#0d1030" text-anchor="end" textLength="75.34" lengthAdjust="spacingAndGlyphs" stroke="#0d1030" stroke-width="0.45">им. Мальбахова</text>
<text x="360.00" y="521.50" font-size="10.00" fill="#0d1030" text-anchor="end" textLength="94.57" lengthAdjust="spacingAndGlyphs" stroke="#0d1030" stroke-width="0.45">Гостиница «Россия»</text>
<text x="243.00" y="573.50" font-size="10.00" fill="#0d1030" textLength="70.73" lengthAdjust="spacingAndGlyphs" stroke="#0d1030" stroke-width="0.45">Дворец Спорта</text>
<text x="434.00" y="201.25" font-size="13.20" fill="#0d1030" textLength="50.93" lengthAdjust="spacingAndGlyphs" stroke="#0d1030" stroke-width="0.45">Стрелка</text>
<text x="426.00" y="185.60" font-size="10.00" fill="#0d1030" textLength="70.68" lengthAdjust="spacingAndGlyphs" stroke="#0d1030" stroke-width="0.45">Рынок Стрелка</text>
<text x="435.00" y="220.50" font-size="10.00" fill="#0d1030" textLength="60.45" lengthAdjust="spacingAndGlyphs" stroke="#0d1030" stroke-width="0.45">Гормолзавод</text>
<text x="435.00" y="247.40" font-size="10.00" fill="#0d1030" textLength="51.37" lengthAdjust="spacingAndGlyphs" stroke="#0d1030" stroke-width="0.45">Калюжного</text>
<text x="435.00" y="274.30" font-size="10.00" fill="#0d1030" textLength="47.19" lengthAdjust="spacingAndGlyphs" stroke="#0d1030" stroke-width="0.45">Ипподром</text>
<text x="435.00" y="301.20" font-size="10.00" fill="#0d1030" textLength="77.81" lengthAdjust="spacingAndGlyphs" stroke="#0d1030" stroke-width="0.45">Б. Хмельницкого</text>
<text x="435.00" y="328.10" font-size="10.00" fill="#0d1030" textLength="108.09" lengthAdjust="spacingAndGlyphs" stroke="#0d1030" stroke-width="0.45">Кондитерская фабрика</text>
<text x="435.00" y="355.00" font-size="10.00" fill="#0d1030" textLength="48.55" lengthAdjust="spacingAndGlyphs" stroke="#0d1030" stroke-width="0.45">Машзавод</text>
<text x="430.00" y="392.50" font-size="10.00" fill="#0d1030" textLength="74.87" lengthAdjust="spacingAndGlyphs" stroke="#0d1030" stroke-width="0.45">Автовокзал № 2</text>
<text x="455.50" y="411.50" font-size="10.00" fill="#0d1030" textLength="50.02" lengthAdjust="spacingAndGlyphs" stroke="#0d1030" stroke-width="0.45">ЖД вокзал</text>
<text x="439.46" y="462.85" font-size="10.00" fill="#0d1030" text-anchor="end" transform="rotate(35.60 439.46 462.85)" textLength="33.90" lengthAdjust="spacingAndGlyphs" stroke="#0d1030" stroke-width="0.45">Мечеть</text>
<text x="420.96" y="475.35" font-size="10.00" fill="#0d1030" text-anchor="end" transform="rotate(35.60 420.96 475.35)" textLength="43.94" lengthAdjust="spacingAndGlyphs" stroke="#0d1030" stroke-width="0.45">Захарова</text>
<text x="404.46" y="498.35" font-size="10.00" fill="#0d1030" text-anchor="end" transform="rotate(35.60 404.46 498.35)" textLength="57.89" lengthAdjust="spacingAndGlyphs" stroke="#0d1030" stroke-width="0.45">Пятигорская</text>
<text x="403.46" y="546.60" font-size="10.00" fill="#0d1030" transform="rotate(35.60 403.46 546.60)" textLength="39.63" lengthAdjust="spacingAndGlyphs" stroke="#0d1030" stroke-width="0.45">Ногмова</text>
<text x="389.46" y="565.35" font-size="10.00" fill="#0d1030" transform="rotate(35.60 389.46 565.35)" textLength="73.15" lengthAdjust="spacingAndGlyphs" stroke="#0d1030" stroke-width="0.45">Торговый центр</text>
<text x="375.96" y="584.10" font-size="10.00" fill="#0d1030" transform="rotate(35.60 375.96 584.10)" textLength="50.76" lengthAdjust="spacingAndGlyphs" stroke="#0d1030" stroke-width="0.45">Лицей № 2</text>
<text x="363.46" y="604.35" font-size="10.00" fill="#0d1030" transform="rotate(35.60 363.46 604.35)" textLength="56.44" lengthAdjust="spacingAndGlyphs" stroke="#0d1030" stroke-width="0.45">Лермонтова</text>
<text x="338.96" y="626.85" font-size="10.00" fill="#0d1030" transform="rotate(35.60 338.96 626.85)" textLength="87.22" lengthAdjust="spacingAndGlyphs" stroke="#0d1030" stroke-width="0.45">Центральный парк</text>
<text x="279.46" y="612.85" font-size="10.00" fill="#0d1030" transform="rotate(35.60 279.46 612.85)" textLength="83.02" lengthAdjust="spacingAndGlyphs" stroke="#0d1030" stroke-width="0.45">Дворец Пионеров</text>
<text x="259.46" y="641.85" font-size="10.00" fill="#0d1030" transform="rotate(35.60 259.46 641.85)" textLength="84.47" lengthAdjust="spacingAndGlyphs" stroke="#0d1030" stroke-width="0.45">Площадь Абхазии</text>
<text x="170.98" y="608.95" font-size="10.00" fill="#0d1030" text-anchor="end" transform="rotate(-50.00 170.98 608.95)" textLength="33.30" lengthAdjust="spacingAndGlyphs" stroke="#0d1030" stroke-width="0.45">Кирова</text>
<text x="197.18" y="627.75" font-size="10.00" fill="#0d1030" text-anchor="end" transform="rotate(-50.00 197.18 627.75)" textLength="75.44" lengthAdjust="spacingAndGlyphs" stroke="#0d1030" stroke-width="0.45">ДК Профсоюзов</text>
<text x="221.18" y="645.25" font-size="10.00" fill="#0d1030" text-anchor="end" transform="rotate(-50.00 221.18 645.25)" textLength="73.15" lengthAdjust="spacingAndGlyphs" stroke="#0d1030" stroke-width="0.45">Торговый центр</text>
<text x="106.47" y="173.47" font-size="13.20" fill="#0d1030" text-anchor="end" transform="rotate(-45.00 106.47 173.47)" textLength="57.74" lengthAdjust="spacingAndGlyphs" stroke="#0d1030" stroke-width="0.45">Шалушка</text>
<text x="156.72" y="172.97" font-size="10.00" fill="#0d1030" text-anchor="end" transform="rotate(-45.00 156.72 172.97)" textLength="41.81" lengthAdjust="spacingAndGlyphs" stroke="#0d1030" stroke-width="0.45">Шаваева</text>
<text x="199.22" y="172.97" font-size="10.00" fill="#0d1030" text-anchor="end" transform="rotate(-45.00 199.22 172.97)" textLength="55.90" lengthAdjust="spacingAndGlyphs" stroke="#0d1030" stroke-width="0.45">Кучменовой</text>
<text x="242.22" y="172.97" font-size="10.00" fill="#0d1030" text-anchor="end" transform="rotate(-45.00 242.22 172.97)" textLength="52.24" lengthAdjust="spacingAndGlyphs" stroke="#0d1030" stroke-width="0.45">Школа № 1</text>
<text x="285.22" y="172.97" font-size="10.00" fill="#0d1030" text-anchor="end" transform="rotate(-45.00 285.22 172.97)" textLength="37.72" lengthAdjust="spacingAndGlyphs" stroke="#0d1030" stroke-width="0.45">8 Марта</text>
<text x="322.22" y="172.97" font-size="10.00" fill="#0d1030" text-anchor="end" transform="rotate(-45.00 322.22 172.97)" textLength="64.47" lengthAdjust="spacingAndGlyphs" stroke="#0d1030" stroke-width="0.45">пер. Садовый</text>
<text x="360.97" y="172.97" font-size="10.00" fill="#0d1030" text-anchor="end" transform="rotate(-45.00 360.97 172.97)" textLength="27.76" lengthAdjust="spacingAndGlyphs" stroke="#0d1030" stroke-width="0.45">9 Мая</text>
<circle cx="107.00" cy="144.50" r="10.60" fill="#ffffff" stroke="#a8233c" stroke-width="1.15"/>
<text x="103.40" y="150.10" font-size="16" font-weight="bold" fill="#a8233c" stroke="#a8233c" stroke-width="0.25" text-anchor="middle">2</text>
<text x="111.30" y="144.30" font-size="8.6" font-weight="bold" fill="#a8233c" stroke="#a8233c" stroke-width="0.15" text-anchor="middle">Ш</text>
<circle cx="377.50" cy="196.30" r="10.60" fill="#ffffff" stroke="#c73a4e" stroke-width="1.15"/>
<text x="373.00" y="201.80" font-size="18.2" font-weight="bold" fill="#c73a4e" stroke="#c73a4e" stroke-width="0.3" textLength="9.0" lengthAdjust="spacingAndGlyphs">2</text>
<circle cx="401.25" cy="196.30" r="10.60" fill="#ffffff" stroke="#dc9a20" stroke-width="1.15"/>
<text x="396.75" y="201.80" font-size="18.2" font-weight="bold" fill="#dc9a20" stroke="#dc9a20" stroke-width="0.3" textLength="9.0" lengthAdjust="spacingAndGlyphs">3</text>
<circle cx="632.00" cy="100.75" r="10.60" fill="#ffffff" stroke="#1f9a63" stroke-width="1.15"/>
<text x="627.50" y="106.25" font-size="18.2" font-weight="bold" fill="#1f9a63" stroke="#1f9a63" stroke-width="0.3" textLength="9.0" lengthAdjust="spacingAndGlyphs">7</text>
<circle cx="803.75" cy="102.00" r="10.60" fill="#ffffff" stroke="#4a5666" stroke-width="1.15"/>
<text x="800.15" y="107.60" font-size="16" font-weight="bold" fill="#4a5666" stroke="#4a5666" stroke-width="0.25" text-anchor="middle">1</text>
<text x="808.05" y="101.80" font-size="8.6" font-weight="bold" fill="#4a5666" stroke="#4a5666" stroke-width="0.15" text-anchor="middle">Н</text>
<circle cx="225.50" cy="390.00" r="10.60" fill="#ffffff" stroke="#1f9a63" stroke-width="1.15"/>
<text x="221.00" y="395.50" font-size="18.2" font-weight="bold" fill="#1f9a63" stroke="#1f9a63" stroke-width="0.3" textLength="9.0" lengthAdjust="spacingAndGlyphs">7</text>
<circle cx="92.50" cy="624.50" r="10.60" fill="#ffffff" stroke="#4a5666" stroke-width="1.15"/>
<text x="88.90" y="630.10" font-size="16" font-weight="bold" fill="#4a5666" stroke="#4a5666" stroke-width="0.25" text-anchor="middle">1</text>
<text x="96.80" y="624.30" font-size="8.6" font-weight="bold" fill="#4a5666" stroke="#4a5666" stroke-width="0.15" text-anchor="middle">Н</text>
<circle cx="116.75" cy="624.50" r="10.60" fill="#ffffff" stroke="#c73a4e" stroke-width="1.15"/>
<text x="112.25" y="630.00" font-size="18.2" font-weight="bold" fill="#c73a4e" stroke="#c73a4e" stroke-width="0.3" textLength="9.0" lengthAdjust="spacingAndGlyphs">2</text>
<circle cx="92.50" cy="647.00" r="10.60" fill="#ffffff" stroke="#3578bd" stroke-width="1.15"/>
<text x="87.20" y="652.50" font-size="18.2" font-weight="bold" fill="#3578bd" stroke="#3578bd" stroke-width="0.3" textLength="10.6" lengthAdjust="spacingAndGlyphs">4</text>
<circle cx="116.75" cy="647.00" r="10.60" fill="#ffffff" stroke="#a8233c" stroke-width="1.15"/>
<text x="113.15" y="652.60" font-size="16" font-weight="bold" fill="#a8233c" stroke="#a8233c" stroke-width="0.25" text-anchor="middle">2</text>
<text x="121.05" y="646.80" font-size="8.6" font-weight="bold" fill="#a8233c" stroke="#a8233c" stroke-width="0.15" text-anchor="middle">Ш</text>
<circle cx="896.75" cy="572.00" r="10.60" fill="#ffffff" stroke="#dc9a20" stroke-width="1.15"/>
<text x="892.25" y="577.50" font-size="18.2" font-weight="bold" fill="#dc9a20" stroke="#dc9a20" stroke-width="0.3" textLength="9.0" lengthAdjust="spacingAndGlyphs">3</text>
<circle cx="921.75" cy="572.00" r="10.60" fill="#ffffff" stroke="#5f92c4" stroke-width="1.15"/>
<text x="916.45" y="577.50" font-size="18.2" font-weight="bold" fill="#5f92c4" stroke="#5f92c4" stroke-width="0.3" textLength="10.6" lengthAdjust="spacingAndGlyphs">4</text>
<rect x="519" y="596.9" width="416" height="110.2" rx="9" ry="9" fill="#ffffff" stroke="#0e1338" stroke-width="1.5"/>
<circle cx="539.50" cy="615.75" r="10.60" fill="#ffffff" stroke="#4a5666" stroke-width="1.15"/>
<text x="535.90" y="621.35" font-size="16" font-weight="bold" fill="#4a5666" stroke="#4a5666" stroke-width="0.25" text-anchor="middle">1</text>
<text x="543.80" y="615.55" font-size="8.6" font-weight="bold" fill="#4a5666" stroke="#4a5666" stroke-width="0.15" text-anchor="middle">Н</text>
<text y="621.25" font-size="14.6" font-weight="bold" fill="#0e1338" stroke="#0e1338" stroke-width="0.15"><tspan x="555.50" textLength="44.00" lengthAdjust="spacingAndGlyphs">Нартан</tspan> <tspan x="607.50" textLength="8.75" lengthAdjust="spacingAndGlyphs">—</tspan> <tspan x="620.00" textLength="43.75" lengthAdjust="spacingAndGlyphs">Горная</tspan></text>
<circle cx="539.50" cy="642.50" r="10.60" fill="#ffffff" stroke="#a8233c" stroke-width="1.15"/>
<text x="535.90" y="648.10" font-size="16" font-weight="bold" fill="#a8233c" stroke="#a8233c" stroke-width="0.25" text-anchor="middle">2</text>
<text x="543.80" y="642.30" font-size="8.6" font-weight="bold" fill="#a8233c" stroke="#a8233c" stroke-width="0.15" text-anchor="middle">Ш</text>
<text y="648.00" font-size="14.6" font-weight="bold" fill="#0e1338" stroke="#0e1338" stroke-width="0.15"><tspan x="555.50" textLength="60.00" lengthAdjust="spacingAndGlyphs">Шалушка</tspan> <tspan x="622.50" textLength="9.25" lengthAdjust="spacingAndGlyphs">—</tspan> <tspan x="635.00" textLength="43.75" lengthAdjust="spacingAndGlyphs">Горная</tspan></text>
<circle cx="539.50" cy="668.25" r="10.60" fill="#ffffff" stroke="#c73a4e" stroke-width="1.15"/>
<text x="535.00" y="673.75" font-size="18.2" font-weight="bold" fill="#c73a4e" stroke="#c73a4e" stroke-width="0.3" textLength="9.0" lengthAdjust="spacingAndGlyphs">2</text>
<text y="673.75" font-size="14.6" font-weight="bold" fill="#0e1338" stroke="#0e1338" stroke-width="0.15"><tspan x="555.50" textLength="52.50" lengthAdjust="spacingAndGlyphs">Стрелка</tspan> <tspan x="614.50" textLength="9.25" lengthAdjust="spacingAndGlyphs">—</tspan> <tspan x="627.50" textLength="43.75" lengthAdjust="spacingAndGlyphs">Горная</tspan></text>
<circle cx="750.00" cy="615.75" r="10.60" fill="#ffffff" stroke="#dc9a20" stroke-width="1.15"/>
<text x="745.50" y="621.25" font-size="18.2" font-weight="bold" fill="#dc9a20" stroke="#dc9a20" stroke-width="0.3" textLength="9.0" lengthAdjust="spacingAndGlyphs">3</text>
<text y="621.25" font-size="14.6" font-weight="bold" fill="#0e1338" stroke="#0e1338" stroke-width="0.15"><tspan x="766.25" textLength="38.75" lengthAdjust="spacingAndGlyphs">Дубки</tspan> <tspan x="810.75" textLength="8.75" lengthAdjust="spacingAndGlyphs">—</tspan> <tspan x="825.00" textLength="53.00" lengthAdjust="spacingAndGlyphs">Стрелка</tspan></text>
<circle cx="750.00" cy="642.50" r="10.60" fill="#ffffff" stroke="#5f92c4" stroke-width="1.15"/>
<text x="744.70" y="648.00" font-size="18.2" font-weight="bold" fill="#5f92c4" stroke="#5f92c4" stroke-width="0.3" textLength="10.6" lengthAdjust="spacingAndGlyphs">4</text>
<text y="648.00" font-size="14.6" font-weight="bold" fill="#0e1338" stroke="#0e1338" stroke-width="0.15"><tspan x="766.25" textLength="38.75" lengthAdjust="spacingAndGlyphs">Дубки</tspan> <tspan x="810.75" textLength="8.75" lengthAdjust="spacingAndGlyphs">—</tspan> <tspan x="825.00" textLength="43.75" lengthAdjust="spacingAndGlyphs">Горная</tspan></text>
<circle cx="750.00" cy="668.25" r="10.60" fill="#ffffff" stroke="#1f9a63" stroke-width="1.15"/>
<text x="745.50" y="673.75" font-size="18.2" font-weight="bold" fill="#1f9a63" stroke="#1f9a63" stroke-width="0.3" textLength="9.0" lengthAdjust="spacingAndGlyphs">7</text>
<text y="673.75" font-size="14.6" font-weight="bold" fill="#0e1338" stroke="#0e1338" stroke-width="0.15"><tspan x="766.25" textLength="43.25" lengthAdjust="spacingAndGlyphs">Адиюх</tspan> <tspan x="815.00" textLength="8.75" lengthAdjust="spacingAndGlyphs">—</tspan> <tspan x="828.75" textLength="80.75" lengthAdjust="spacingAndGlyphs">Университет</tspan></text>
<rect x="527.5" y="690.4" width="23.5" height="5.6" fill="#4f8fc6"/>
<path d="M2.00 0 L-1.60 -2.10 L-1.60 2.10 Z" fill="#dfeaf7" transform="translate(539.60 693.20) rotate(0.0)"/>
<text x="556.00" y="696.60" font-size="11.20" fill="#0d1030" textLength="299.50" lengthAdjust="spacingAndGlyphs" stroke="#0d1030" stroke-width="0.30">остановка только в указанном направлении движения</text>
<circle cx="546" cy="590.1" r="4.5" fill="none" stroke="#c3c3c3" stroke-width="1.1"/>
<circle cx="559.3" cy="590.1" r="4.5" fill="none" stroke="#c3c3c3" stroke-width="1.1"/>
<text x="546" y="591.9" font-size="5.4" font-weight="bold" fill="#c3c3c3" text-anchor="middle" textLength="6.2" lengthAdjust="spacingAndGlyphs">cc</text>
<circle cx="559.3" cy="587.9" r="0.9" fill="#c3c3c3"/><path d="M557.9 589.3 H560.7 V591.4 H560.1 V593.3 H558.5 V591.4 H557.9 Z" fill="#c3c3c3"/>
<text x="568.70" y="593.20" font-size="8.80" fill="#c3c3c3" textLength="148.40" lengthAdjust="spacingAndGlyphs" stroke="#c3c3c3" stroke-width="0.30">02244 production | CC-BY 4.0 | 2018</text>
<text y="49.8" font-size="36.3" font-weight="bold" fill="#0e1338" stroke="#0e1338" stroke-width="0.42"><tspan x="214.7" textLength="100.8" lengthAdjust="spacingAndGlyphs">Схема</tspan> <tspan x="328.2" textLength="250.2" lengthAdjust="spacingAndGlyphs">троллейбусных</tspan> <tspan x="591.9" textLength="179.8" lengthAdjust="spacingAndGlyphs">маршрутов</tspan> <tspan x="783.2" textLength="20.3" lengthAdjust="spacingAndGlyphs">г.</tspan> <tspan x="811.9" textLength="25.9" lengthAdjust="spacingAndGlyphs">о.</tspan> <tspan x="850.5" textLength="137.1" lengthAdjust="spacingAndGlyphs">Нальчик</tspan></text>
<rect x="20" y="74.7" width="984" height="2" fill="#0e1338"/>
<g fill="none" stroke="#0e1338" stroke-linecap="round" stroke-linejoin="round">
<path d="M33.3 22.1 L86.2 21.6 C89.5 21.8 90.6 24 90.9 25.8 C91.3 30 91.8 33 92.8 36.1 C94 40 95.5 43 97.5 45.5 C100 48.5 102.5 50 105 51.1 C109 52.5 113 52.9 116 52.9" stroke-width="1.75"/>
<path d="M33.3 22.1 C34.3 23.8 34.8 24.8 35.8 25.4 C39 27.4 43 28.7 47.8 30 C46 30.8 45.6 32 46.6 32.8 C47.8 34 52 35.2 57.2 36.1 C55.2 37 55 38.6 56 39.6 C58 41.2 62 41.8 65.6 42.2 C67.6 42.6 67.6 44 66.4 44.8 C65 46 66 47.4 67.8 47.8 C71 48.4 78 48.4 82.5 48.8 C85 49.2 86.6 51 87.2 52.6" stroke-width="1.75"/>
<path d="M48 29 L79.7 28.6" stroke-width="1.5"/>
<path d="M86.4 51.4 C88.5 56 92 59.6 96.5 62 C102 65 109 66.6 116 66.7" stroke-width="2.6"/>
<path d="M87.2 55.2 C89.6 59.4 92.8 62.6 96.8 64.6 C102.4 67.4 109 68.4 116 68.5" stroke-width="1.6" stroke-dasharray="1.7 1.7"/>
<path d="M48 25.4 L80.4 42.6" stroke-width="2.1"/>
<path d="M47 24.2 L52.6 24.8 L49.4 28.4 Z M69.2 32.6 L79.4 37.6 L80.6 43 L72 41.6 L74 46.2 L69.8 41.4 L63.6 40.4 L69.6 38.2 Z" fill="#0e1338" stroke-width="0.8"/>
<g transform="translate(232.0 0) scale(-1 1)">
<path d="M33.3 22.1 L86.2 21.6 C89.5 21.8 90.6 24 90.9 25.8 C91.3 30 91.8 33 92.8 36.1 C94 40 95.5 43 97.5 45.5 C100 48.5 102.5 50 105 51.1 C109 52.5 113 52.9 116 52.9" stroke-width="1.75"/>
<path d="M33.3 22.1 C34.3 23.8 34.8 24.8 35.8 25.4 C39 27.4 43 28.7 47.8 30 C46 30.8 45.6 32 46.6 32.8 C47.8 34 52 35.2 57.2 36.1 C55.2 37 55 38.6 56 39.6 C58 41.2 62 41.8 65.6 42.2 C67.6 42.6 67.6 44 66.4 44.8 C65 46 66 47.4 67.8 47.8 C71 48.4 78 48.4 82.5 48.8 C85 49.2 86.6 51 87.2 52.6" stroke-width="1.75"/>
<path d="M48 29 L79.7 28.6" stroke-width="1.5"/>
<path d="M86.4 51.4 C88.5 56 92 59.6 96.5 62 C102 65 109 66.6 116 66.7" stroke-width="2.6"/>
<path d="M87.2 55.2 C89.6 59.4 92.8 62.6 96.8 64.6 C102.4 67.4 109 68.4 116 68.5" stroke-width="1.6" stroke-dasharray="1.7 1.7"/>
<path d="M48 25.4 L80.4 42.6" stroke-width="2.1"/>
<path d="M47 24.2 L52.6 24.8 L49.4 28.4 Z M69.2 32.6 L79.4 37.6 L80.6 43 L72 41.6 L74 46.2 L69.8 41.4 L63.6 40.4 L69.6 38.2 Z" fill="#0e1338" stroke-width="0.8"/>
</g>
<path d="M101.2 12.2 C96.6 18 96 30 99.4 37.6 C102.4 43.6 108 45.2 116 45.2 C124 45.2 129.6 43.6 132.6 37.6 C136 30 135.4 18 130.8 12.2" stroke-width="4.9" stroke-linecap="butt"/>
<circle cx="100.8" cy="11.6" r="1.3" fill="#0e1338" stroke="none"/><circle cx="131.2" cy="11.6" r="1.3" fill="#0e1338" stroke="none"/>
<path d="M110.6 33.4 L102.6 18.6 M108 35.4 L100.8 25.4 M105.6 37.6 L100.2 31.8 M113.2 31.6 L107.4 14.6 M121.4 33.4 L129.4 18.6 M124 35.4 L131.2 25.4 M126.4 37.6 L131.8 31.8 M118.8 31.6 L124.6 14.6" stroke-width="1.5" stroke-linecap="butt"/>
</g>
<path d="M106.2 11 H125.8 L123.6 15.8 H119 V29.8 H121 V32.2 H111 V29.8 H113 V15.8 H108.4 Z" fill="#0e1338"/>
<path d="M108.6 12.6 H123.4 L122.6 14.3 H117.3 V30.6 M114.7 30.6 V14.3 H109.4 Z" fill="none" stroke="#ffffff" stroke-width="0.55"/>
<path d="M100.4 43.4 C103 40.6 107 38.4 110.4 37.6 C112.4 37 114 36.4 116 35.4 C118 36.4 119.6 37 121.6 37.6 C125 38.4 129 40.6 131.6 43.4 C128 46.6 122 47.2 116 47.2 C110 47.2 104 46.6 100.4 43.4 Z" fill="#0e1338"/>
<rect x="1.0" y="0.25" width="1021.7" height="722.05" rx="13" ry="13" fill="none" stroke="#0e1338" stroke-width="3"/>
</svg>
</body></html>
